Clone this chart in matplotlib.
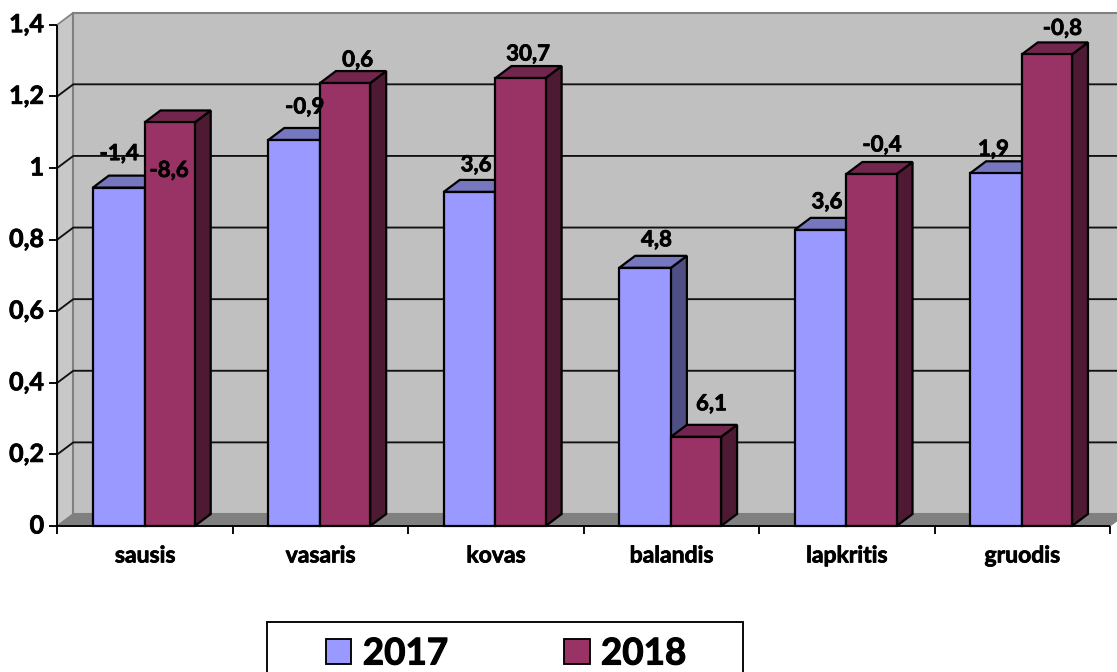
import matplotlib
matplotlib.use("Agg")
import matplotlib.pyplot as plt
import matplotlib.patheffects as pe
from matplotlib.patches import Polygon, Patch, Rectangle

plt.rcParams['font.family'] = ['Lato', 'DejaVu Sans']
plt.rcParams['font.weight'] = 'bold'

categories = ['sausis', 'vasaris', 'kovas', 'balandis', 'lapkritis', 'gruodis']
values_2017 = [0.945, 1.078, 0.933, 0.721, 0.827, 0.985]
values_2018 = [1.127, 1.237, 1.251, 0.249, 0.983, 1.317]
labels_2017 = ['-1,4', '-0,9', '3,6', '4,8', '3,6', '1,9']
labels_2018 = ['-8,6', '0,6', '30,7', '6,1', '-0,4', '-0,8']
y_ticks = [0, 0.2, 0.4, 0.6, 0.8, 1.0, 1.2, 1.4]
y_tick_labels = ['0', '0,2', '0,4', '0,6', '0,8', '1', '1,2', '1,4']

# label offsets from the top centre of each bar's front face, in pixels (manual in the original)
offset_2017 = [(0, 34), (10, 33), (6, 27), (11, 28), (6, 28), (-3, 24)]
offset_2018 = [(-1, -48), (12, 23), (7, 24), (15, 33), (10, 29), (15, 26)]

W, H = 1117, 672
fig = plt.figure(figsize=(W / 100, H / 100), dpi=100, facecolor='white')
L, R, T, B = 57.3, 1110.0, 24.7, 526.0
ax = fig.add_axes([L / W, 1 - B / H, (R - L) / W, (B - T) / H])
ax.set_xlim(0, 6)
ax.set_ylim(0, 1.4)
ax.patch.set_visible(False)

px_x = 6 / (R - L)
px_y = 1.4 / (B - T)
dx, dy = 16 * px_x, 12 * px_y
bar_w_a = 51.7 * px_x
bar_w_b = 50.2 * px_x
nudge = -0.5 * px_x
heavy = [pe.withStroke(linewidth=0.55, foreground='black')]

wall, floor, border = '#C0C0C0', '#808080', '#808080'
top_y = 1.4
# side wall, back wall, floor
ax.add_patch(Polygon([(0, 0), (dx, dy), (dx, top_y + dy), (0, top_y)], fc='#C8C8C8', ec=border, lw=1.2, clip_on=False, zorder=1))
ax.add_patch(Polygon([(dx, dy), (6 + dx, dy), (6 + dx, top_y + dy), (dx, top_y + dy)], fc=wall, ec=border, lw=1.5, clip_on=False, zorder=1))
ax.add_patch(Polygon([(0, 0), (6, 0), (6 + dx, dy), (dx, dy)], fc=floor, ec=border, lw=0.8, clip_on=False, zorder=1.5))

for v in y_ticks[1:-1]:
    ax.plot([0, dx, 6 + dx], [v, v + dy, v + dy], color='#111111', lw=1.35, clip_on=False, zorder=2, solid_capstyle='butt')


def bar3d(x0, w, v, face, top, side, z):
    kw = dict(ec='black', lw=1.6, joinstyle='miter', clip_on=False, zorder=z)
    ax.add_patch(Polygon([(x0 + w, 0), (x0 + w + dx, dy), (x0 + w + dx, v + dy), (x0 + w, v)], fc=side, **kw))
    ax.add_patch(Polygon([(x0, v), (x0 + w, v), (x0 + w + dx, v + dy), (x0 + dx, v + dy)], fc=top, **kw))
    ax.add_patch(Rectangle((x0, 0), w, v, fc=face, **kw))


series = [
    (values_2017, labels_2017, offset_2017, '#9999FF', '#7777C0', '#4F4F85', -bar_w_a, bar_w_a),
    (values_2018, labels_2018, offset_2018, '#993366', '#73264D', '#4D1933', 0, bar_w_b),
]
z = 3
for i in range(len(categories)):
    for vals, labs, offs, face, top, side, shift, w in series:
        bar3d(i + 0.5 + nudge + shift, w, vals[i], face, top, side, z)
        z += 1
for vals, labs, offs, face, top, side, shift, w in series:
    for i, v in enumerate(vals):
        ox, oy = offs[i]
        ax.annotate(labs[i], (i + 0.5 + shift + w / 2, v), xytext=(ox * 0.72, oy * 0.72),
                    textcoords='offset points', ha='center', va='center', fontsize=16,
                    fontweight='bold', color='black', zorder=100, annotation_clip=False,
                    path_effects=heavy)

for s in ('top', 'right'):
    ax.spines[s].set_visible(False)
for s in ('left', 'bottom'):
    ax.spines[s].set_linewidth(1.35)
    ax.spines[s].set_zorder(2.5)
    ax.spines[s].set_capstyle('butt')

ax.set_yticks(y_ticks)
ax.set_yticklabels(y_tick_labels, fontsize=18, fontweight='bold', path_effects=heavy, va='center')
ax.tick_params(axis='y', length=5.5, width=1.35, pad=4)
ax.set_xticks(range(7))
ax.set_xticklabels([])
ax.set_xticks([i + 0.5 for i in range(6)], minor=True)
ax.set_xticklabels(categories, minor=True, fontsize=16.5, fontweight='bold', path_effects=heavy)
ax.tick_params(axis='x', which='major', length=5.5, width=1.35)
ax.tick_params(axis='x', which='minor', length=0, pad=14)

# legend
fig.add_artist(Rectangle((266.5 / W, 1 - 690 / H), 476.5 / W, 68 / H, transform=fig.transFigure,
                         fc='white', ec='black', lw=1.35))
handles = [Patch(fc='#9999FF', ec='black', lw=1.35, label='2017'), Patch(fc='#993366', ec='black', lw=1.35, label='2018')]
leg = fig.legend(handles=handles, ncol=2, frameon=False, loc='center left',
                 bbox_to_anchor=(326 / W, 1 - 654 / H), borderpad=0, borderaxespad=0,
                 prop={'size': 26.5, 'weight': 'bold'}, handlelength=0.69, handleheight=0.69,
                 handletextpad=0.31, columnspacing=3.15)
for t in leg.get_texts():
    t.set_path_effects([pe.withStroke(linewidth=0.8, foreground='black')])

fig.savefig('out.png', dpi=100, facecolor='white')
